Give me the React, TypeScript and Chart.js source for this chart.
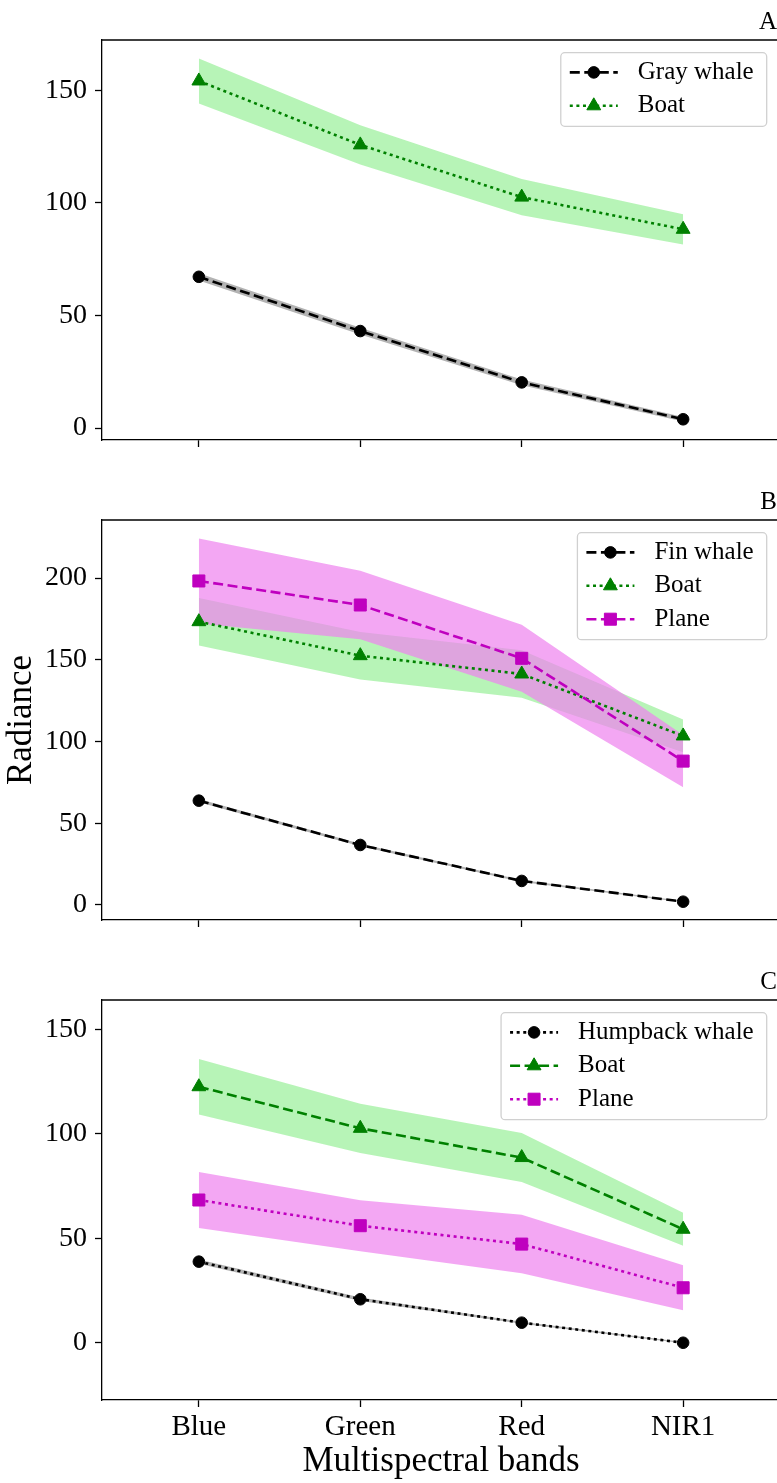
import React, { useEffect, useRef } from 'react';
import { Chart, registerables } from 'chart.js';

Chart.register(...registerables);

const FONT = '"Liberation Serif", "Times New Roman", serif';
Chart.defaults.font.family = FONT;
Chart.defaults.color = '#000';

// ---------- data ----------
const bands = ['Blue', 'Green', 'Red', 'NIR1'];
const bandPositions = [0, 1, 2, 3];

// Panel A
const grayWhaleMean = [67.2, 43.1, 20.3, 3.9];
const grayWhaleStd = [1.6, 1.5, 1.3, 1.0];
const boatAMean = [154.2, 125.8, 102.6, 88.3];
const boatAStd = [10.0, 8.7, 8.0, 6.7];

// Panel B
const finWhaleMean = [63.8, 36.7, 14.7, 2.0];
const finWhaleStd = [1.0, 0.8, 0.6, 0.4];
const boatBMean = [173.3, 152.5, 141.3, 103.4];
const boatBStd = [14.5, 14.5, 14.5, 10.0];
const planeBMean = [198.2, 183.5, 150.9, 88.0];
const planeBStd = [26.0, 21.0, 20.5, 16.0];

// Panel C
const humpbackMean = [38.8, 20.8, 9.6, 0.0];
const humpbackStd = [1.0, 0.8, 0.5, 0.3];
const boatCMean = [122.5, 102.6, 88.6, 54.3];
const boatCStd = [13.3, 11.8, 11.7, 7.9];
const planeCMean = [68.3, 56.0, 47.2, 26.3];
const planeCStd = [13.4, 12.2, 14.0, 10.75];

const yTicksA = [0, 50, 100, 150];
const yTicksB = [0, 50, 100, 150, 200];
const yTicksC = [0, 50, 100, 150];
const yRangeA = [-5.3, 172.4];
const yRangeB = [-9.2, 235.5];
const yRangeC = [-27.4, 164.0];
const xRange = [-0.6, 3.6];

// ---------- styles ----------
const BLACK = '#000000';
const GREEN = '#008000';
const MAGENTA = '#bf00bf';
const GRAY_FILL = 'rgba(128,128,128,0.6)';
const GREEN_FILL = 'rgba(144,238,144,0.65)';
const PINK_FILL = 'rgba(238,130,238,0.7)';
const DASHED = [10, 4.5];
const DOTTED = [3, 3.6];
const LW = 2.6;

type Series = {
  label: string;
  mean: number[];
  std: number[];
  color: string;
  fill: string;
  dash: number[];
  marker: string;
  radius: number;
};

const whale = (label: string, mean: number[], std: number[], dash: number[]): Series => ({
  label, mean, std, color: BLACK, fill: GRAY_FILL, dash, marker: 'circle', radius: 5.8,
});
const boat = (mean: number[], std: number[], dash: number[]): Series => ({
  label: 'Boat', mean, std, color: GREEN, fill: GREEN_FILL, dash, marker: 'triangle', radius: 8,
});
const plane = (mean: number[], std: number[], dash: number[]): Series => ({
  label: 'Plane', mean, std, color: MAGENTA, fill: PINK_FILL, dash, marker: 'rect', radius: 8.5,
});

const panels = [
  {
    key: 'A', top: 0, height: 480, yRange: yRangeA, yTicks: yTicksA, showX: false, yTitle: false,
    series: [whale('Gray whale', grayWhaleMean, grayWhaleStd, DASHED), boat(boatAMean, boatAStd, DOTTED)],
  },
  {
    key: 'B', top: 480, height: 480, yRange: yRangeB, yTicks: yTicksB, showX: false, yTitle: true,
    series: [
      whale('Fin whale', finWhaleMean, finWhaleStd, DASHED),
      boat(boatBMean, boatBStd, DOTTED),
      plane(planeBMean, planeBStd, DASHED),
    ],
  },
  {
    key: 'C', top: 960, height: 523, yRange: yRangeC, yTicks: yTicksC, showX: true, yTitle: false,
    series: [
      whale('Humpback whale', humpbackMean, humpbackStd, DOTTED),
      boat(boatCMean, boatCStd, DASHED),
      plane(planeCMean, planeCStd, DOTTED),
    ],
  },
];

const CANVAS_W = 790;

function toPts(vals: number[]) {
  return vals.map((v, j) => ({ x: bandPositions[j], y: v }));
}

function buildDatasets(series: Series[]) {
  const ds: any[] = [];
  const n = series.length;
  series.forEach((s, i) => {
    ds.push({
      label: s.label,
      data: toPts(s.mean),
      borderColor: s.color,
      backgroundColor: s.color,
      borderWidth: LW,
      borderDash: s.dash,
      borderCapStyle: 'butt',
      pointStyle: s.marker,
      pointRadius: s.radius,
      pointBackgroundColor: s.color,
      pointBorderColor: s.color,
      pointBorderWidth: 1,
      fill: false,
      tension: 0,
      order: n - i,
    });
  });
  series.forEach((s, i) => {
    ds.push({
      label: s.label + ' upper',
      data: toPts(s.mean.map((m, j) => m + s.std[j])),
      borderColor: 'rgba(0,0,0,0)',
      borderWidth: 0,
      pointRadius: 0,
      fill: false,
      tension: 0,
      order: 50 - i,
    });
    ds.push({
      label: s.label + ' lower',
      data: toPts(s.mean.map((m, j) => m - s.std[j])),
      borderColor: 'rgba(0,0,0,0)',
      borderWidth: 0,
      pointRadius: 0,
      fill: '-1',
      backgroundColor: s.fill,
      tension: 0,
      order: 50 - i,
    });
  });
  return ds;
}

function drawMarker(ctx: CanvasRenderingContext2D, style: string, x: number, y: number, r: number, color: string) {
  ctx.save();
  ctx.fillStyle = color;
  ctx.strokeStyle = color;
  ctx.lineWidth = 1;
  ctx.setLineDash([]);
  ctx.beginPath();
  if (style === 'circle') {
    ctx.arc(x, y, r, 0, Math.PI * 2);
  } else if (style === 'triangle') {
    let rad = 0;
    ctx.moveTo(x + Math.sin(rad) * r, y - Math.cos(rad) * r);
    rad += (2 * Math.PI) / 3;
    ctx.lineTo(x + Math.sin(rad) * r, y - Math.cos(rad) * r);
    rad += (2 * Math.PI) / 3;
    ctx.lineTo(x + Math.sin(rad) * r, y - Math.cos(rad) * r);
    ctx.closePath();
  } else {
    const s = r * Math.SQRT1_2;
    ctx.rect(x - s, y - s, 2 * s, 2 * s);
  }
  ctx.fill();
  ctx.stroke();
  ctx.restore();
}

function decorPlugin(title: string, series: Series[]) {
  return {
    id: 'decor' + title,
    afterDraw(chart: any) {
      const { ctx, chartArea } = chart;
      const { left, right, top } = chartArea;
      ctx.save();
      // top spine
      ctx.strokeStyle = '#000';
      ctx.lineWidth = 1.3;
      ctx.setLineDash([]);
      ctx.beginPath();
      ctx.moveTo(left - 0.65, top);
      ctx.lineTo(right, top);
      ctx.stroke();
      // panel title
      ctx.font = `25px ${FONT}`;
      ctx.fillStyle = '#000';
      ctx.textAlign = 'right';
      ctx.textBaseline = 'alphabetic';
      ctx.fillText(title, 777, top - 11);
      // legend
      ctx.font = `25px ${FONT}`;
      const maxW = Math.max(...series.map((s) => ctx.measureText(s.label).width));
      const boxW = 77 + maxW + 13;
      const boxRight = right - 13.3;
      const boxLeft = boxRight - boxW;
      const boxTop = top + 12.7;
      const rowH = 33.4;
      const boxH = 19.7 + (series.length - 1) * rowH + 20.5;
      ctx.beginPath();
      const rr = 4;
      ctx.moveTo(boxLeft + rr, boxTop);
      ctx.lineTo(boxLeft + boxW - rr, boxTop);
      ctx.arcTo(boxLeft + boxW, boxTop, boxLeft + boxW, boxTop + rr, rr);
      ctx.lineTo(boxLeft + boxW, boxTop + boxH - rr);
      ctx.arcTo(boxLeft + boxW, boxTop + boxH, boxLeft + boxW - rr, boxTop + boxH, rr);
      ctx.lineTo(boxLeft + rr, boxTop + boxH);
      ctx.arcTo(boxLeft, boxTop + boxH, boxLeft, boxTop + boxH - rr, rr);
      ctx.lineTo(boxLeft, boxTop + rr);
      ctx.arcTo(boxLeft, boxTop, boxLeft + rr, boxTop, rr);
      ctx.closePath();
      ctx.fillStyle = 'rgba(255,255,255,0.8)';
      ctx.fill();
      ctx.strokeStyle = '#d0d0d0';
      ctx.lineWidth = 1.3;
      ctx.stroke();
      series.forEach((s, i) => {
        const cy = boxTop + 19.7 + i * rowH;
        const x0 = boxLeft + 9;
        ctx.save();
        ctx.strokeStyle = s.color;
        ctx.lineWidth = LW;
        ctx.lineCap = 'butt';
        ctx.setLineDash(s.dash);
        ctx.beginPath();
        ctx.moveTo(x0, cy);
        ctx.lineTo(x0 + 48, cy);
        ctx.stroke();
        ctx.restore();
        drawMarker(ctx, s.marker, x0 + 24, cy, s.radius, s.color);
        ctx.fillStyle = '#000';
        ctx.textAlign = 'left';
        ctx.textBaseline = 'middle';
        ctx.fillText(s.label, boxLeft + 77, cy);
      });
      ctx.restore();
    },
  };
}

function makeConfig(p: any): any {
  const gridOpts = {
    display: true,
    drawOnChartArea: false,
    drawTicks: true,
    tickLength: 7,
    tickWidth: 1.3,
    tickColor: '#000',
  };
  const borderOpts = { display: true, color: '#000', width: 1.3 };
  return {
    type: 'line',
    data: { datasets: buildDatasets(p.series) },
    options: {
      animation: false,
      responsive: false,
      maintainAspectRatio: false,
      devicePixelRatio: 1,
      layout: { padding: { top: 40, right: 10, left: 0, bottom: 0 } },
      plugins: {
        legend: { display: false },
        tooltip: { enabled: false },
        title: { display: false },
      },
      scales: {
        x: {
          type: 'linear',
          min: xRange[0],
          max: xRange[1],
          afterBuildTicks: (scale: any) => {
            scale.ticks = bandPositions.map((v) => ({ value: v }));
          },
          afterFit: (scale: any) => {
            scale.height = p.height - 440;
          },
          ticks: {
            display: p.showX,
            autoSkip: false,
            maxRotation: 0,
            minRotation: 0,
            padding: 3,
            color: '#000',
            font: { size: 29, family: FONT },
            callback: (v: number) => bands[v] ?? '',
          },
          grid: gridOpts,
          border: borderOpts,
          title: {
            display: p.showX,
            text: 'Multispectral bands',
            color: '#000',
            font: { size: 35, family: FONT },
            padding: { top: 0, bottom: 0 },
          },
        },
        y: {
          type: 'linear',
          min: p.yRange[0],
          max: p.yRange[1],
          afterBuildTicks: (scale: any) => {
            scale.ticks = p.yTicks.map((v: number) => ({ value: v }));
          },
          afterFit: (scale: any) => {
            scale.width = 102;
          },
          ticks: {
            padding: 8,
            color: '#000',
            font: { size: 28, family: FONT },
            callback: (v: number) => String(v),
          },
          grid: gridOpts,
          border: borderOpts,
          title: {
            display: p.yTitle,
            text: 'Radiance',
            color: '#000',
            font: { size: 35, family: FONT },
            padding: { top: 1, bottom: 0 },
          },
        },
      },
    },
    plugins: [decorPlugin(p.key, p.series)],
  };
}

function Panel({ p }: { p: any }) {
  const ref = useRef<HTMLCanvasElement | null>(null);
  useEffect(() => {
    if (!ref.current) return;
    const chart = new Chart(ref.current, makeConfig(p));
    return () => chart.destroy();
  }, [p]);
  return (
    <div style={{ position: 'absolute', left: 0, top: p.top, width: CANVAS_W, height: p.height }}>
      <canvas
        ref={ref}
        width={CANVAS_W}
        height={p.height}
        style={{ display: 'block', width: CANVAS_W, height: p.height }}
      />
    </div>
  );
}

export default function App() {
  useEffect(() => {
    document.body.style.margin = '0';
    document.body.style.overflow = 'hidden';
  }, []);
  return (
    <div
      style={{
        position: 'relative',
        width: 777,
        height: 1483,
        overflow: 'hidden',
        background: '#fff',
      }}
    >
      <style>{'html,body{margin:0;padding:0;overflow:hidden;background:#fff;}'}</style>
      {panels.map((p) => (
        <Panel key={p.key} p={p} />
      ))}
    </div>
  );
}
